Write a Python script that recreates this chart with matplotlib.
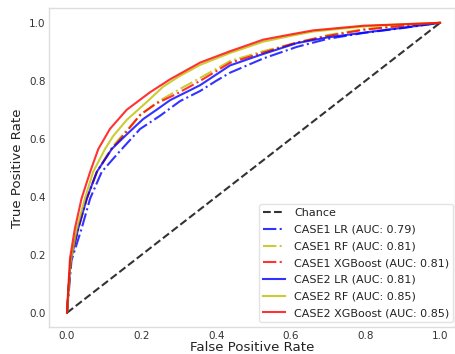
import matplotlib
matplotlib.use("Agg")
import matplotlib.pyplot as plt

# ROC points (false positive rate, true positive rate)
case1_lr_fpr = [0, 0.004, 0.012, 0.039, 0.062, 0.093, 0.14, 0.196, 0.25, 0.303,
                0.357, 0.4, 0.437, 0.526, 0.616, 0.7, 0.795, 0.9, 1.0]
case1_lr_tpr = [0, 0.06, 0.18, 0.29, 0.394, 0.486, 0.555, 0.634, 0.68, 0.73,
                0.765, 0.80, 0.828, 0.877, 0.917, 0.945, 0.965, 0.982, 1.0]

case1_rf_fpr = [0, 0.004, 0.01, 0.03, 0.053, 0.08, 0.12, 0.16, 0.2, 0.24,
                0.3, 0.357, 0.437, 0.52, 0.58, 0.7, 0.795, 0.9, 1.0]
case1_rf_tpr = [0, 0.08, 0.18, 0.29, 0.394, 0.486, 0.57, 0.63, 0.685, 0.725,
                0.77, 0.81, 0.868, 0.9, 0.92, 0.958, 0.978, 0.99, 1.0]

case1_xgb_fpr = [0, 0.004, 0.01, 0.03, 0.053, 0.08, 0.12, 0.16, 0.196, 0.24,
                 0.294, 0.357, 0.437, 0.52, 0.616, 0.7, 0.795, 0.9, 1.0]
case1_xgb_tpr = [0, 0.08, 0.18, 0.29, 0.394, 0.486, 0.565, 0.625, 0.683, 0.722,
                 0.755, 0.80, 0.862, 0.895, 0.932, 0.955, 0.976, 0.99, 1.0]

case2_lr_fpr = [0, 0.004, 0.01, 0.03, 0.053, 0.08, 0.12, 0.16, 0.204, 0.24,
                0.276, 0.357, 0.437, 0.52, 0.616, 0.7, 0.795, 0.9, 1.0]
case2_lr_tpr = [0, 0.08, 0.18, 0.29, 0.394, 0.486, 0.565, 0.615, 0.668, 0.70,
                0.733, 0.785, 0.853, 0.89, 0.93, 0.95, 0.966, 0.983, 1.0]

case2_rf_fpr = [0, 0.003, 0.009, 0.026, 0.048, 0.07, 0.102, 0.124, 0.16, 0.213,
                0.258, 0.3, 0.357, 0.437, 0.526, 0.6, 0.66, 0.8, 0.9, 1.0]
case2_rf_tpr = [0, 0.05, 0.17, 0.29, 0.394, 0.486, 0.565, 0.61, 0.665, 0.726,
                0.78, 0.815, 0.855, 0.896, 0.935, 0.955, 0.97, 0.988, 0.995, 1.0]

case2_xgb_fpr = [0, 0.002, 0.008, 0.021, 0.039, 0.062, 0.084, 0.115, 0.16, 0.222,
                 0.276, 0.357, 0.437, 0.526, 0.6, 0.66, 0.795, 0.9, 1.0]
case2_xgb_tpr = [0, 0.05, 0.188, 0.29, 0.394, 0.486, 0.565, 0.634, 0.70, 0.76,
                 0.805, 0.863, 0.902, 0.942, 0.96, 0.974, 0.99, 0.995, 1.0]

chance = [0, 1]

curves = [
    ("CASE1 LR (AUC: 0.79)", case1_lr_fpr, case1_lr_tpr, "b", "-."),
    ("CASE1 RF (AUC: 0.81)", case1_rf_fpr, case1_rf_tpr, "y", "-."),
    ("CASE1 XGBoost (AUC: 0.81)", case1_xgb_fpr, case1_xgb_tpr, "r", "-."),
    ("CASE2 LR (AUC: 0.81)", case2_lr_fpr, case2_lr_tpr, "b", "-"),
    ("CASE2 RF (AUC: 0.85)", case2_rf_fpr, case2_rf_tpr, "y", "-"),
    ("CASE2 XGBoost (AUC: 0.85)", case2_xgb_fpr, case2_xgb_tpr, "r", "-"),
]

fig = plt.figure(figsize=(4.55, 3.54), dpi=100)
ax = fig.add_axes([0.1066, 0.0755, 0.8934, 0.901])

ax.plot(chance, chance, linestyle="--", color="k", alpha=0.8, lw=1.5, label="Chance")
for label, fpr, tpr, color, style in curves:
    ax.plot(fpr, tpr, linestyle=style, color=color, alpha=0.8, lw=1.5, label=label)

ax.set_xlim(-0.0496, 1.04)
ax.set_ylim(-0.05, 1.05)
ax.set_xticks([0.0, 0.2, 0.4, 0.6, 0.8, 1.0])
ax.set_yticks([0.0, 0.2, 0.4, 0.6, 0.8, 1.0])
ax.tick_params(length=0, labelsize=7.5, labelcolor="#333333")
ax.tick_params(axis="x", pad=3.0)
ax.tick_params(axis="y", pad=2)
for spine in ax.spines.values():
    spine.set_color("#dddddd")
    spine.set_linewidth(1.0)

ax.set_xlabel("False Positive Rate", fontsize=9.6, color="#222222", labelpad=-0.4)
ax.set_ylabel("True Positive Rate", fontsize=9.6, color="#222222", labelpad=4)

leg = ax.legend(loc="lower right", fontsize=8, frameon=True, fancybox=True,
                handlelength=2.0, handletextpad=0.8, borderpad=0.35,
                labelspacing=0.6, borderaxespad=0,
                bbox_to_anchor=(0.9963, 0.0166))
leg.get_frame().set_edgecolor("#dddddd")
for text in leg.get_texts():
    text.set_color("#222222")

fig.savefig("out.png", dpi=100)
plt.close(fig)
